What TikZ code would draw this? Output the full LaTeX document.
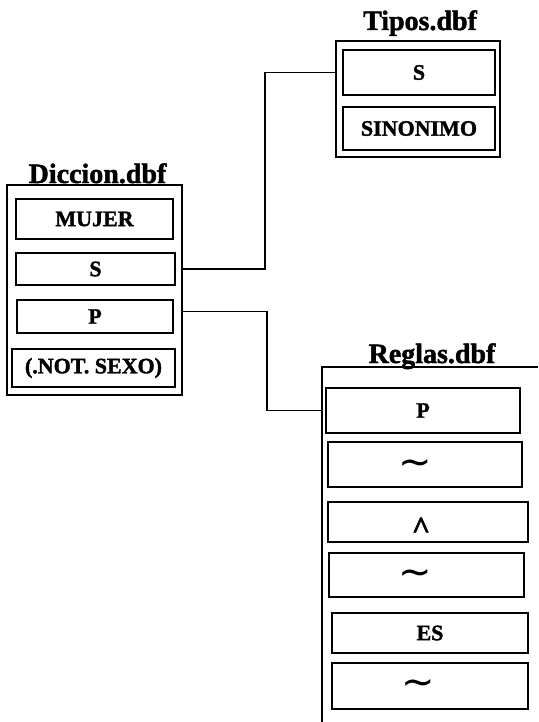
\documentclass[tikz,border=0pt]{standalone}
\usepackage{fontspec}
\setmainfont{Liberation Serif}
\newfontfamily\heavy[FakeBold=1.6]{Liberation Serif Bold}
\newfontfamily\symfont{DejaVu Sans}
\begin{document}
\begin{tikzpicture}[x=1pt,y=-1pt,
  frame/.style={draw, line width=2pt, inner sep=0pt},
  field/.style={draw, line width=1.8pt, inner sep=0pt, font=\fontsize{22}{22}\selectfont\heavy},
  tname/.style={anchor=base, inner sep=0pt, font=\fontsize{28}{28}\selectfont\heavy},
  wave/.style={font=\fontsize{40}{40}\symfont},
  link/.style={line width=1.8pt}]
\useasboundingbox (0,0) rectangle (538,722);

% Diccion.dbf
\node[frame, minimum width=175, minimum height=210] (dic) at (94.5,290) {};
\node[tname] (dicT) at (97.5,183) {Diccion.dbf};
\node[field, minimum width=157, minimum height=40] (dM) at (94.5,219) {MUJER};
\node[field, minimum width=159, minimum height=32] (dS) at (95.5,269) {S};
\node[field, minimum width=156, minimum height=33] (dP) at (95,316.5) {P};
\node[field, minimum width=163, minimum height=38] (dN) at (93.5,368) {(.NOT. SEXO)};

% Tipos.dbf
\node[frame, minimum width=164, minimum height=116] (tip) at (418,99) {};
\node[tname] (tipT) at (420,30) {Tipos.dbf};
\node[field, minimum width=152, minimum height=45] (tS) at (419,72.5) {S};
\node[field, minimum width=152, minimum height=43] (tSin) at (419,128.5) {SINONIMO};

% Reglas.dbf (open frame running off the page)
\coordinate (rc) at (322,367);
\draw[line width=2pt] (538,367) -- (rc) -- (322,722);
\node[tname] (regT) at (432,363) {Reglas.dbf};
\node[field, minimum width=194, minimum height=45] (rP) at (423,410.5) {P};
\node[field, minimum width=194, minimum height=45] (rT1) at (425,464.5) {};
\node[wave] (w1) at ([xshift=-10,yshift=-3]rT1.center) {∼};
\node[field, minimum width=200, minimum height=40] (rC) at (428,522) {};
\node[font=\fontsize{32}{32}\selectfont\heavy, inner sep=0pt] (caret) at ([xshift=-7]rC.center) {\smash{\raisebox{-16.5pt}{\textasciicircum}}};
\node[field, minimum width=195, minimum height=44] (rT2) at (426.5,575) {};
\node[wave] (w2) at ([xshift=-11,yshift=-3]rT2.center) {∼};
\node[field, minimum width=196, minimum height=40] (rE) at (430,633) {ES};
\node[field, minimum width=196, minimum height=46] (rT3) at (430,686) {};
\node[wave] (w3) at ([xshift=-12,yshift=-2]rT3.center) {∼};

% links between the tables
\coordinate (j1) at (265,0);
\coordinate (j2) at (267,0);
\draw[link] (dS -| dic.east) -- (dS -| j1) |- (tS -| tip.west);
\draw[link] ([yshift=5]dP.center -| dic.east) -- ([yshift=5]dP.center -| j2) |- (rP -| rc);
\end{tikzpicture}
\end{document}
